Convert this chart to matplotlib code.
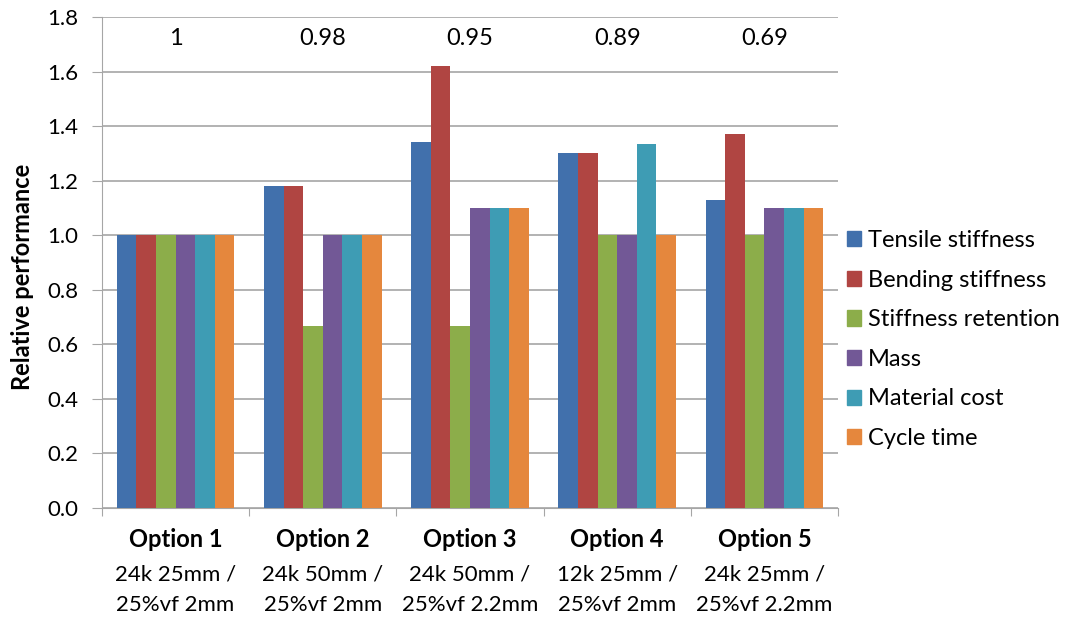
import numpy as np
import matplotlib.pyplot as plt
from matplotlib.patches import Patch
from matplotlib.transforms import blended_transform_factory

plt.rcParams['font.family'] = ['Lato', 'DejaVu Sans']

options = ["Option 1", "Option 2", "Option 3", "Option 4", "Option 5"]
descr = ["24k 25mm /\n25%vf 2mm", "24k 50mm /\n25%vf 2mm", "24k 50mm /\n25%vf 2.2mm",
         "12k 25mm /\n25%vf 2mm", "24k 25mm /\n25%vf 2.2mm"]
scores = ["1", "0.98", "0.95", "0.89", "0.69"]

series = ["Tensile stiffness", "Bending stiffness", "Stiffness retention",
          "Mass", "Material cost", "Cycle time"]
tensile = [1.0, 1.18, 1.34, 1.30, 1.13]
bending = [1.0, 1.18, 1.62, 1.30, 1.37]
retention = [1.0, 0.667, 0.667, 1.0, 1.0]
mass = [1.0, 1.0, 1.1, 1.0, 1.1]
cost = [1.0, 1.0, 1.1, 1.333, 1.1]
cycle = [1.0, 1.0, 1.1, 1.0, 1.1]
colors = ["#4170AC", "#B04542", "#8CAD4A", "#725896", "#3E9CB4", "#E5873D"]

data = [tensile, bending, retention, mass, cost, cycle]

fig = plt.figure(figsize=(10.69, 6.21), dpi=100)
ax = fig.add_axes([0.0954, 0.182, 0.6885, 0.7907])

x = np.arange(len(options))
w = 0.8 / 6
for i, vals in enumerate(data):
    ax.bar(x - 0.4 + w * (i + 0.5), vals, w, color=colors[i], zorder=3)

ax.set_xlim(-0.5, len(options) - 0.5)
ax.set_ylim(0, 1.8)
ax.set_yticks(np.arange(0, 1.81, 0.2))
ax.set_yticklabels([f"{v:.1f}" for v in np.arange(0, 1.81, 0.2)], fontsize=16)
ax.yaxis.grid(True, color="#a6a6a6", linewidth=1.2, zorder=0)
fig.text(0.021, 0.554, "Relative performance", rotation=90, ha="center", va="center",
         fontsize=17, fontweight="bold")

for s in ["top", "right"]:
    ax.spines[s].set_visible(False)
ax.spines["left"].set_color("#a6a6a6")
ax.spines["bottom"].set_color("#a6a6a6")
ax.tick_params(axis="y", color="#a6a6a6", length=7, pad=10)

ax.set_xticks(np.arange(-0.5, len(options), 1.0))
ax.set_xticklabels([])
ax.tick_params(axis="x", color="#a6a6a6", length=6)

tr = blended_transform_factory(ax.transData, ax.transAxes)
for i in range(len(options)):
    ax.text(x[i], -0.040, options[i], transform=tr, ha="center", va="top",
            fontsize=17, fontweight="bold")
    ax.text(x[i], -0.116, descr[i], transform=tr, ha="center", va="top",
            fontsize=16, linespacing=1.62)
    ax.text(x[i], 1.72, scores[i], ha="center", va="center", fontsize=17)

handles = [Patch(color=c) for c in colors]
fig.legend(handles, series, loc="center left", bbox_to_anchor=(0.792, 0.4533),
           frameon=False, fontsize=17, handlelength=0.62, handleheight=0.62,
           handletextpad=0.3, labelspacing=0.79, borderpad=0, borderaxespad=0)

fig.savefig("out.png", dpi=100)
